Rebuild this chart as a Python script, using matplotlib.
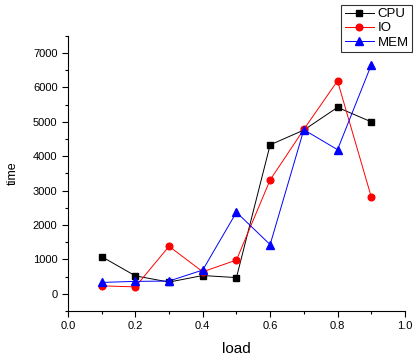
import matplotlib
matplotlib.use("Agg")
import matplotlib.pyplot as plt
from matplotlib.ticker import MultipleLocator

plt.rcParams["font.family"] = ["Liberation Sans", "DejaVu Sans"]

load = [0.1, 0.2, 0.3, 0.4, 0.5, 0.6, 0.7, 0.8, 0.9]
cpu = [1080, 520, 340, 530, 470, 4330, 4760, 5420, 5000]
io = [230, 200, 1380, 640, 980, 3310, 4780, 6190, 2820]
mem = [330, 360, 370, 690, 2370, 1430, 4770, 4190, 6650]

fig = plt.figure(figsize=(4.17, 3.62), dpi=100)
ax = fig.add_axes([0.163, 0.141, 0.808, 0.760])

ax.plot(load, cpu, color="black", marker="s", markersize=4.2, lw=0.7, label="CPU")
ax.plot(load, io, color="red", marker="o", markersize=4.8, lw=0.7, label="IO")
ax.plot(load, mem, color="blue", marker="^", markersize=5.2, lw=0.7, label="MEM")

ax.set_xlim(0, 1.0)
ax.set_ylim(-500, 7500)
ax.xaxis.set_minor_locator(MultipleLocator(0.1))
ax.yaxis.set_minor_locator(MultipleLocator(500))
ax.set_yticks(range(0, 8000, 1000))
ax.set_xticks([0.0, 0.2, 0.4, 0.6, 0.8, 1.0])
ax.set_xticklabels(["0.0", "0.2", "0.4", "0.6", "0.8", "1.0"])

ax.spines["top"].set_visible(False)
ax.spines["right"].set_visible(False)
ax.tick_params(which="major", direction="out", length=4, width=0.8, labelsize=8)
ax.tick_params(which="minor", direction="out", length=2.5, width=0.8)

ax.set_xlabel("load", fontsize=11, labelpad=8)
ax.set_ylabel("time", fontsize=9, labelpad=10)

leg = ax.legend(loc="upper right", bbox_to_anchor=(1.021, 1.113), fontsize=9.5,
                frameon=True, fancybox=False, edgecolor="black",
                borderpad=0.25, labelspacing=0.15, handlelength=2.2,
                handletextpad=0.3, borderaxespad=0)
leg.get_frame().set_linewidth(0.8)

fig.savefig("out.png", dpi=100)
